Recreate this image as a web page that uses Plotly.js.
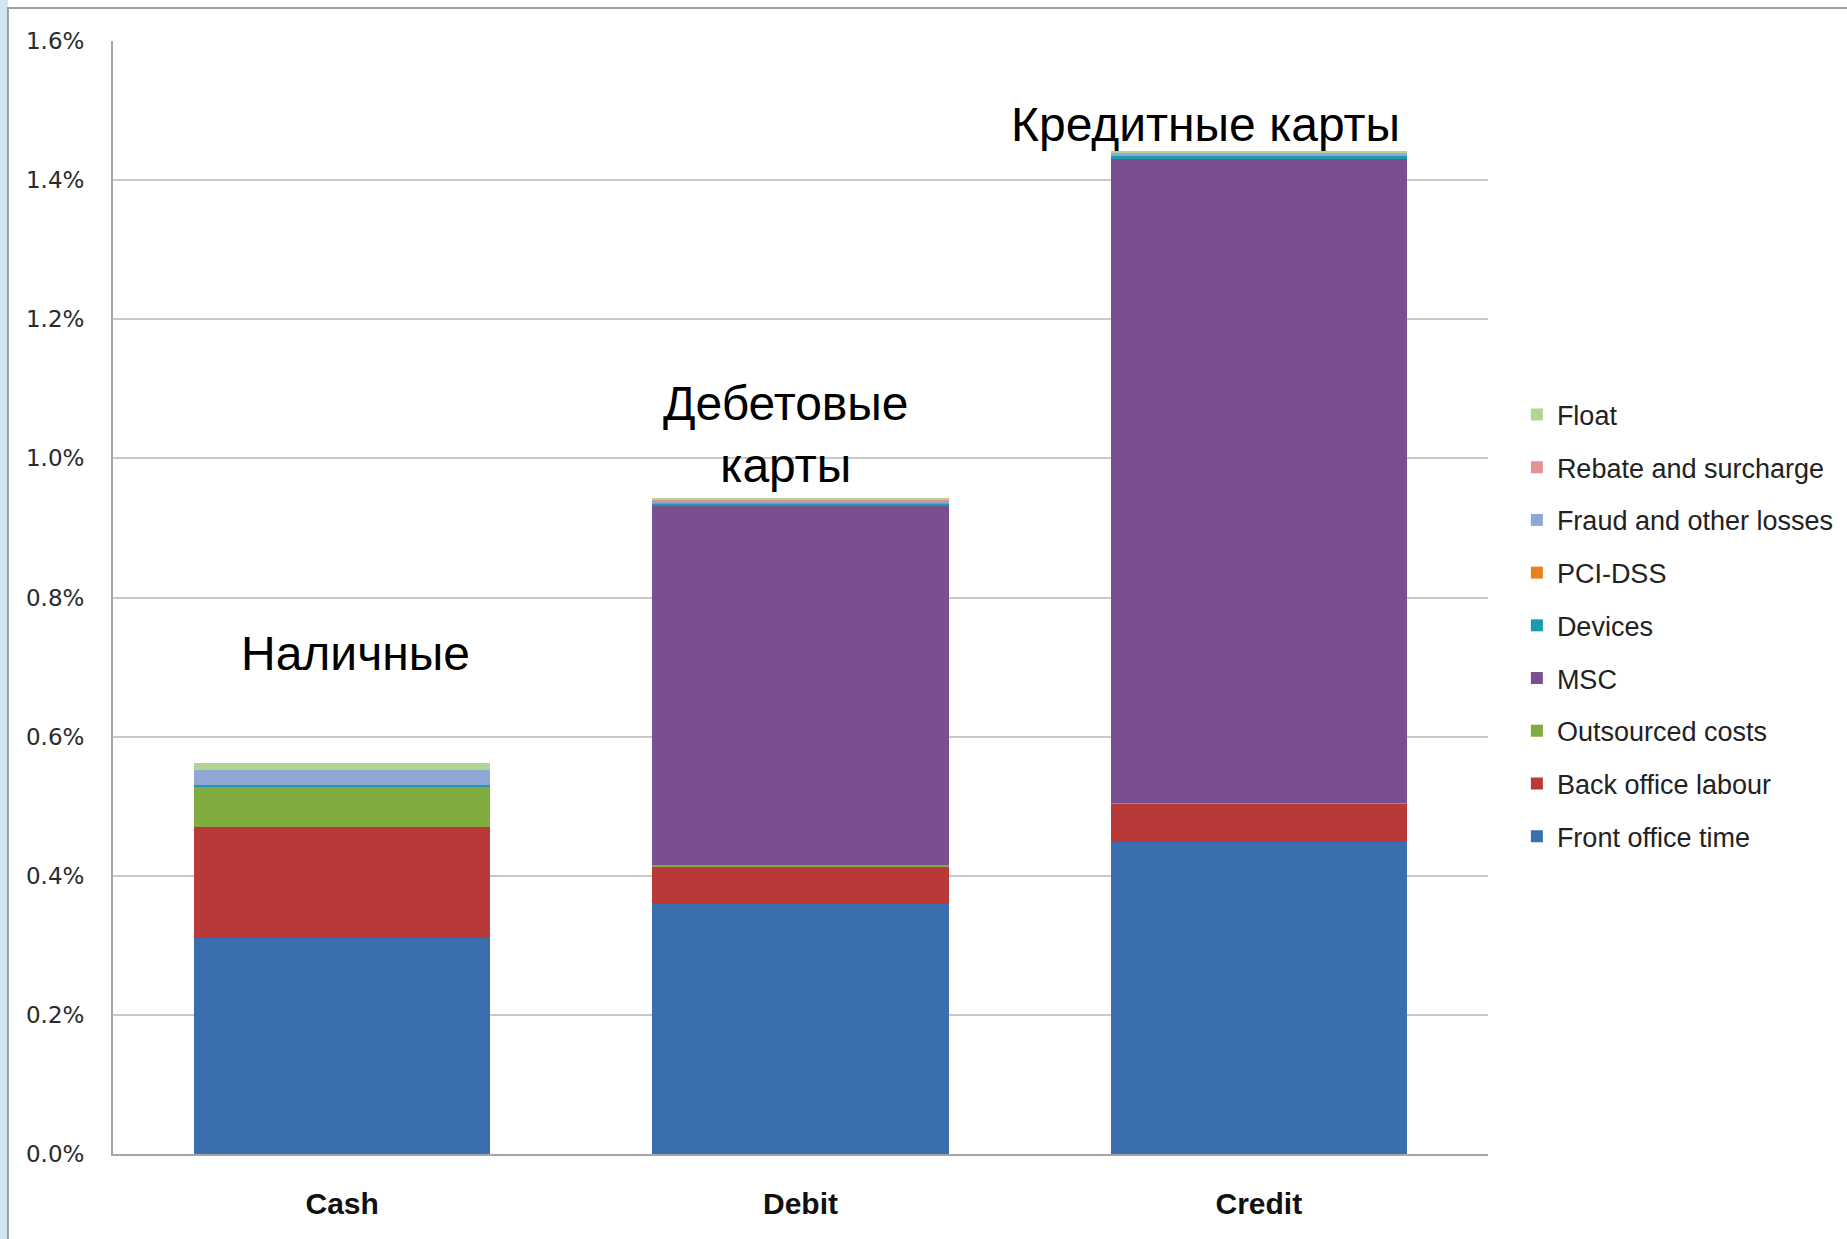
<!DOCTYPE html>
<html>
<head>
<meta charset="utf-8">
<script src="https://cdn.plot.ly/plotly-3.0.1.min.js"></script>
<style>html,body{margin:0;padding:0;background:#fff;}#chart{width:1847px;height:1239px;}</style>
</head>
<body>
<div id="chart"></div>
<script>
// Categories
const categories = ["Cash", "Debit", "Credit"];
// Series values (share of transaction value, %)
const frontOffice  = [0.310, 0.360, 0.448];
const backOffice   = [0.160, 0.053, 0.055];
const outsourced   = [0.058, 0.003, 0.002];
const msc          = [0.000, 0.516, 0.925];
const devices      = [0.002, 0.003, 0.004];
const pciDss       = [0.000, 0.001, 0.001];
const fraud        = [0.022, 0.003, 0.003];
const rebate       = [0.000, 0.001, 0.001];
const floatCost    = [0.010, 0.003, 0.003];
// Tick labels
const tickVals = [0, 0.2, 0.4, 0.6, 0.8, 1.0, 1.2, 1.4, 1.6];
const tickText = ["0.0%", "0.2%", "0.4%", "0.6%", "0.8%", "1.0%", "1.2%", "1.4%", "1.6%"];
// Annotation labels
const annotLabels = ["Наличные", "Дебетовые<br>карты", "Кредитные карты"];
const annotY = [0.72, 1.035, 1.48];

const seriesNames = ["Front office time", "Back office labour", "Outsourced costs", "MSC", "Devices", "PCI-DSS", "Fraud and other losses", "Rebate and surcharge", "Float"];
const seriesValues = [frontOffice, backOffice, outsourced, msc, devices, pciDss, fraud, rebate, floatCost];
const seriesColors = ["#3a6eae", "#b93838", "#7fab3f", "#7a4f8f", "#1a9aae", "#e8801e", "#8ea7d4", "#e39393", "#b4d592"];

const traces = seriesNames.map((name, i) => ({
  type: "bar",
  name: name,
  x: categories,
  y: seriesValues[i],
  marker: {color: seriesColors[i], line: {width: 0}},
  legendgroup: "g" + i,
  legendrank: 100 - i,
  hoverinfo: "name+y"
}));

const annotShift = [13, -15, -53];
const annotations = categories.map((c, i) => ({
  x: c, y: annotY[i], xref: "x", yref: "y",
  xshift: annotShift[i],
  text: annotLabels[i], showarrow: false,
  font: {family: "Liberation Sans, Arial, sans-serif", size: 48, color: "#000"},
  align: "center"
}));

const layout = {
  width: 1847, height: 1239,
  margin: {l: 113, r: 359, t: 41, b: 85, autoexpand: false},
  barmode: "stack",
  bargap: 0.354,
  paper_bgcolor: "#ffffff",
  plot_bgcolor: "#ffffff",
  showlegend: true,
  legend: {
    x: 1.021, xanchor: "left", y: 0.686, yanchor: "top",
    traceorder: "grouped",
    tracegroupgap: 14.6,
    font: {family: "Liberation Sans, Arial, sans-serif", size: 27, color: "#222"},
    bgcolor: "rgba(0,0,0,0)"
  },
  xaxis: {
    type: "category",
    showline: true, linecolor: "#a6a6a6", linewidth: 2,
    ticks: "", showgrid: false,
    tickfont: {family: "Liberation Sans, Arial, sans-serif", size: 30, color: "#111", weight: "bold"},
    ticklabelstandoff: 22
  },
  yaxis: {
    range: [0, 1.6],
    tickvals: tickVals, ticktext: tickText,
    showline: true, linecolor: "#a6a6a6", linewidth: 2,
    showgrid: true, gridcolor: "#c8c8c8", gridwidth: 2,
    zeroline: false,
    ticks: "",
    tickfont: {family: "DejaVu Sans, Verdana, sans-serif", size: 23, color: "#2a2a2a"},
    ticklabelstandoff: 22
  },
  annotations: annotations,
  shapes: [
    {type: "rect", xref: "paper", yref: "paper", x0: -0.0822, x1: -0.0765, y0: -0.1, y1: 1.04,
     fillcolor: "#cfe6ee", line: {width: 0}, layer: "below"},
    {type: "rect", xref: "paper", yref: "paper", x0: -0.0764, x1: 1.28, y0: -0.1, y1: 1.0297,
     fillcolor: "rgba(0,0,0,0)", line: {color: "#a0a0a0", width: 2}, layer: "below"}
  ]
};

Plotly.newPlot("chart", traces, layout, {displayModeBar: false, staticPlot: true});
</script>
</body>
</html>
